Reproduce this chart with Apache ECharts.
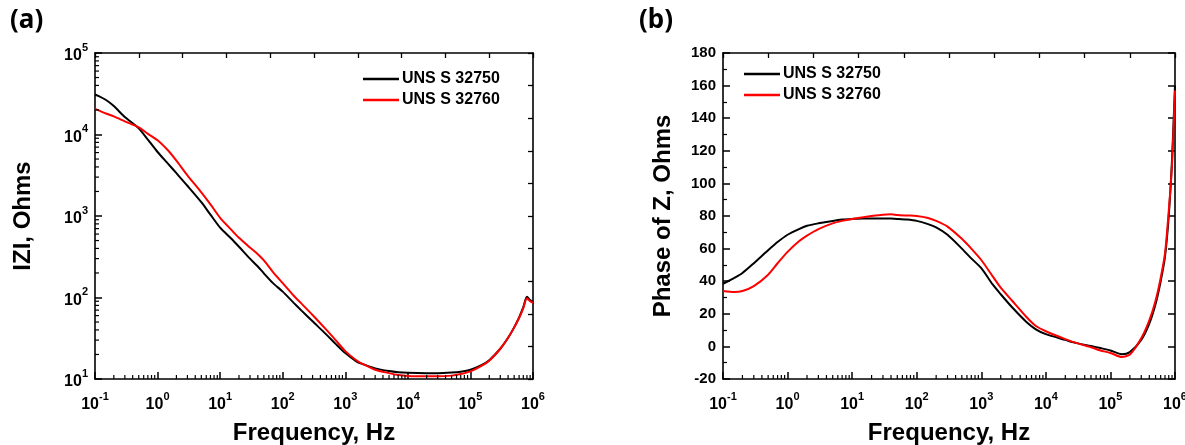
<!DOCTYPE html>
<html>
<head>
<meta charset="utf-8">
<script src="https://cdn.jsdelivr.net/npm/echarts@6/dist/echarts.min.js"></script>
<style>
html, body { margin: 0; padding: 0; background: #fff; }
#chart { width: 1185px; height: 445px; }
</style>
</head>
<body>
<div id="chart"></div>
<script>
// Measurement frequencies (Hz)
const freq = [0.1, 0.15, 0.2, 0.3, 0.5, 0.7, 1, 1.5, 2, 3, 5, 7, 10, 15, 20, 30, 40, 50, 70,
  100, 150, 200, 300, 500, 700, 1000, 1500, 2000, 3000, 5000, 7000, 1e4, 2e4, 3e4, 5e4, 7e4,
  1e5, 1.5e5, 2e5, 3e5, 4e5, 5e5, 6e5, 7e5, 8e5, 9e5, 1e6];

const seriesNames = ['UNS S 32750', 'UNS S 32760'];

// |Z| (Ohms)
const mag32750 = [31000, 26500, 22300, 16400, 11900, 8650, 6100, 4300, 3350, 2350, 1480, 1040, 720,
  530, 420, 300, 240, 198, 150, 118, 86, 69, 51, 35, 27, 20.8, 16.5, 15, 13.5, 12.5, 12.1, 11.9,
  11.8, 11.8, 12, 12.3, 13, 14.8, 17, 23.5, 32, 43, 57, 76, 102, 93, 88];
const mag32760 = [20600, 18100, 16700, 14500, 12200, 10200, 8500, 6270, 4770, 3150, 1950, 1390, 950,
  680, 540, 410, 340, 285, 205, 150, 105, 84, 61, 40, 30, 22, 17, 15, 13, 11.8, 11.2, 10.9,
  10.8, 10.8, 11, 11.5, 12.4, 14.5, 16.8, 23.5, 32, 43, 56, 74, 98, 90, 86];

// Phase of Z
const phase32750 = [38.4, 42, 45, 51, 59, 64, 68.5, 72, 74, 75.5, 77, 77.8, 78.2, 78.5, 78.5, 78.5,
  78.4, 78.2, 77.8, 77, 75, 73, 68.5, 60, 54, 48, 38, 32, 24, 15, 10.5, 7.5, 4, 2, 0.3, -1, -2.5,
  -4.8, -3.5, 4, 14, 26, 40, 55, 80, 115, 160];
const phase32760 = [34, 33.4, 34, 37, 44, 51, 58, 64.5, 68, 72, 75.5, 77, 78.2, 79.3, 80, 80.8, 81,
  80.6, 80.3, 80, 78.8, 77, 73.5, 66, 60, 53, 43, 36, 28, 18, 12.5, 9.3, 4.5, 2, -0.5, -2.5, -4,
  -6.5, -5, 5, 16, 28, 42, 57, 83, 112, 157];

// Decade ranges of the log axes
const freqExpRange = [-1, 6];
const magExpRange = [1, 5];
const minorMultipliers = [2, 3, 4, 5, 6, 7, 8, 9];

function minorValues(range) {
  const out = [];
  for (let e = range[0]; e < range[1]; e++) {
    minorMultipliers.forEach(k => out.push(k * Math.pow(10, e)));
  }
  return out;
}

const FONT = '"Liberation Sans", Arial, sans-serif';
const BLACK = '#000';
const colors = ['#000000', '#ff0000'];

const pairs = (xs, ys) => xs.map((x, i) => [x, ys[i]]);

const axisLineStyle = { show: true, onZero: false, lineStyle: { color: BLACK, width: 1.6 } };
const majorTick = { show: true, inside: true, length: 7, lineStyle: { color: BLACK, width: 1.5 } };
const mirrorTick = { show: true, inside: true, length: 5, lineStyle: { color: BLACK, width: 1.3 } };

const powLabel = {
  color: BLACK,
  formatter: v => '{b|10}{s|' + Math.round(Math.log10(v)) + '}',
  rich: {
    b: { fontSize: 16, fontWeight: 'bold', fontFamily: FONT, color: BLACK, lineHeight: 22, verticalAlign: 'bottom' },
    s: { fontSize: 11, fontWeight: 'bold', fontFamily: FONT, color: BLACK, lineHeight: 11, verticalAlign: 'top' }
  }
};

const titleStyle = { fontSize: 24, fontWeight: 'bold', fontFamily: FONT, color: BLACK };

function logFreqAxis(gridIndex) {
  return {
    type: 'log', logBase: 10, gridIndex: gridIndex, position: 'bottom',
    min: Math.pow(10, freqExpRange[0]), max: Math.pow(10, freqExpRange[1]),
    axisLine: axisLineStyle, axisTick: majorTick,
    axisLabel: Object.assign({ margin: 12 }, powLabel),
    splitLine: { show: false }, minorTick: { show: false },
    name: 'Frequency, Hz', nameLocation: 'middle', nameGap: 42, nameTextStyle: titleStyle
  };
}

function mirrorAxis(gridIndex, position, min, max, interval, tick) {
  return {
    type: 'value', gridIndex: gridIndex, position: position, min: min, max: max, interval: interval,
    axisLine: axisLineStyle, axisTick: tick || mirrorTick,
    axisLabel: { show: false }, splitLine: { show: false }
  };
}

// Short inward tick marks at the 2..9 sub-decade positions of a log axis
function minorTickSeries(xIdx, yIdx, data, vertical) {
  return {
    type: 'custom', xAxisIndex: xIdx, yAxisIndex: yIdx, silent: true, z: 5, clip: false,
    data: data,
    renderItem: (params, api) => {
      const p = api.coord([api.value(0), api.value(1)]);
      const shape = vertical
        ? { x1: p[0], y1: p[1], x2: p[0], y2: p[1] - 4 }
        : { x1: p[0], y1: p[1], x2: p[0] + 4, y2: p[1] };
      return { type: 'line', shape: shape, style: { stroke: BLACK, lineWidth: 1.2 } };
    }
  };
}

function curve(name, xIdx, yIdx, data, color) {
  return {
    name: name, type: 'line', xAxisIndex: xIdx, yAxisIndex: yIdx, data: data,
    showSymbol: false, symbol: 'none', smooth: 0.25, z: 3,
    lineStyle: { color: color, width: 2 }, itemStyle: { color: color }
  };
}

function legendAt(left, top) {
  return {
    data: seriesNames, orient: 'vertical', left: left, top: top,
    icon: 'rect', itemWidth: 36, itemHeight: 2.5, itemGap: 5,
    textStyle: { fontSize: 16, fontWeight: 'bold', fontFamily: FONT, color: BLACK, padding: [0, 0, 0, -2] }
  };
}

const xMinor = minorValues(freqExpRange);
const yMinor = minorValues(magExpRange);

const chart = echarts.init(document.getElementById('chart'), null, { renderer: 'canvas' });
chart.setOption({
  animation: false,
  backgroundColor: '#fff',
  grid: [
    { left: 95, top: 53, width: 438, height: 326, outerBoundsMode: 'none' },
    { left: 723, top: 53, width: 452, height: 326, outerBoundsMode: 'none' }
  ],
  legend: [legendAt(358, 66), legendAt(739, 61)],
  xAxis: [
    logFreqAxis(0),
    mirrorAxis(0, 'top', 0, 10, 1),
    logFreqAxis(1),
    mirrorAxis(1, 'top', 0, 10, 1)
  ],
  yAxis: [
    {
      type: 'log', logBase: 10, gridIndex: 0, position: 'left',
      min: Math.pow(10, magExpRange[0]), max: Math.pow(10, magExpRange[1]),
      axisLine: axisLineStyle, axisTick: majorTick,
      axisLabel: Object.assign({ margin: 7 }, powLabel),
      splitLine: { show: false },
      name: 'IZI, Ohms', nameLocation: 'middle', nameGap: 60, nameTextStyle: titleStyle
    },
    mirrorAxis(0, 'right', 0, 10, 1),
    {
      type: 'value', gridIndex: 1, position: 'left', min: -20, max: 180, interval: 20,
      axisLine: axisLineStyle, axisTick: majorTick,
      minorTick: { show: true, splitNumber: 2, length: 4, lineStyle: { color: BLACK, width: 1.2 } },
      axisLabel: { color: BLACK, fontSize: 15, fontWeight: 'bold', fontFamily: FONT, margin: 7 },
      splitLine: { show: false }, minorSplitLine: { show: false },
      name: 'Phase of Z, Ohms', nameLocation: 'middle', nameGap: 48, nameTextStyle: titleStyle
    },
    mirrorAxis(1, 'right', -20, 180, 20, majorTick)
  ],
  series: [
    curve(seriesNames[0], 0, 0, pairs(freq, mag32750), colors[0]),
    curve(seriesNames[1], 0, 0, pairs(freq, mag32760), colors[1]),
    curve(seriesNames[0], 2, 2, pairs(freq, phase32750), colors[0]),
    curve(seriesNames[1], 2, 2, pairs(freq, phase32760), colors[1]),
    minorTickSeries(0, 0, xMinor.map(v => [v, Math.pow(10, magExpRange[0])]), true),
    minorTickSeries(0, 0, yMinor.map(v => [Math.pow(10, freqExpRange[0]), v]), false),
    minorTickSeries(2, 2, xMinor.map(v => [v, -20]), true)
  ],
  graphic: [
    { type: 'text', left: 10, top: 8, style: { text: '(a)', font: 'bold 26px "Noto Sans", sans-serif', fill: BLACK } },
    { type: 'text', left: 639, top: 8, style: { text: '(b)', font: 'bold 26px "Noto Sans", sans-serif', fill: BLACK } }
  ]
});
</script>
</body>
</html>
